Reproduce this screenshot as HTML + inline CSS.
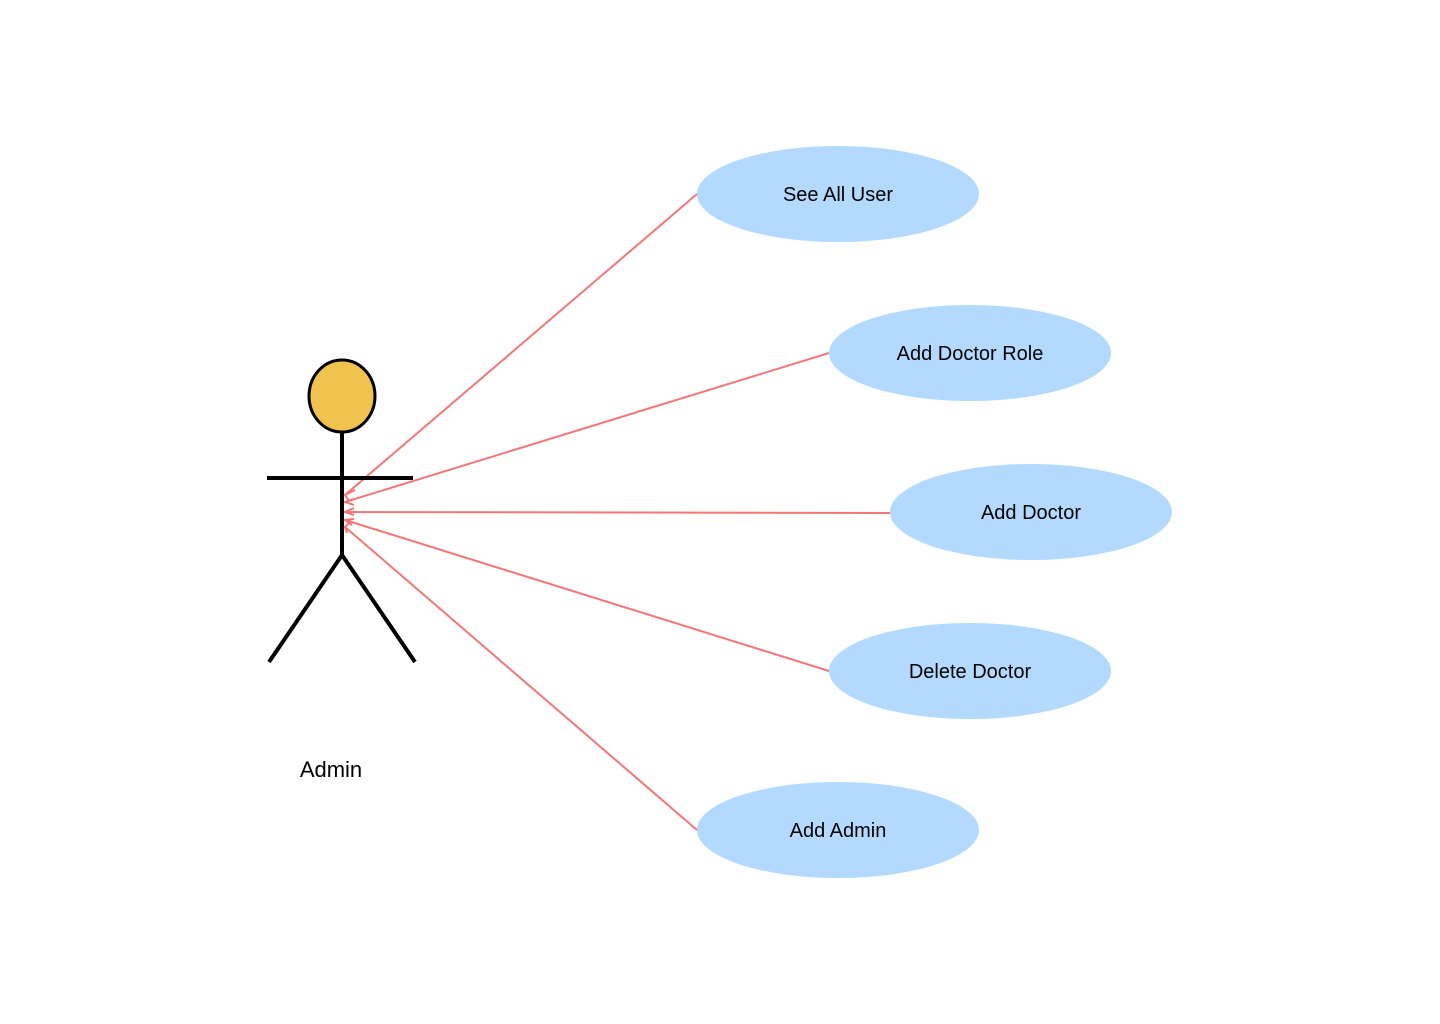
<!DOCTYPE html>
<html><head><style>body{margin:0;background:#fff}svg{display:block}</style></head><body>
<svg width="1440" height="1024" viewBox="0 0 1440 1024" xmlns="http://www.w3.org/2000/svg">
<rect width="1440" height="1024" fill="#fff"/>
<g fill="#b3dafe">
<ellipse cx="838" cy="194" rx="141" ry="48"/>
<ellipse cx="970" cy="353" rx="141" ry="48"/>
<ellipse cx="1031" cy="512" rx="141" ry="48"/>
<ellipse cx="970" cy="671" rx="141" ry="48"/>
<ellipse cx="838" cy="830" rx="141" ry="48"/>
</g>
<g stroke="#f87575" stroke-width="2" fill="none">
<line x1="697" y1="194" x2="345" y2="495"/>
<line x1="829" y1="353" x2="345" y2="502"/>
<line x1="890" y1="513" x2="345" y2="512"/>
<line x1="829" y1="671" x2="345" y2="520"/>
<line x1="697" y1="830" x2="345" y2="527"/>
<path d="M355 490 L345 495 L349 501 M354 499 L345 502 L354 505 M354 508 L345 512 L354 515 M354 519 L345 520 L352 525 M350 522 L345 527 L347 533"/>
</g>
<g stroke="#000" stroke-width="4" fill="none">
<line x1="342" y1="432" x2="342" y2="556"/>
<line x1="267" y1="478" x2="413" y2="478"/>
<polyline points="269,662 342,555 415,662"/>
</g>
<ellipse cx="342" cy="396" rx="33" ry="36" fill="#f0c24e" stroke="#000" stroke-width="3"/>
<g font-family="Liberation Sans, sans-serif" font-size="20" text-anchor="middle" fill="#000">
<text x="838" y="201">See All User</text>
<text x="970" y="360">Add Doctor Role</text>
<text x="1031" y="519">Add Doctor</text>
<text x="970" y="678">Delete Doctor</text>
<text x="838" y="837">Add Admin</text>
<text x="331" y="777" font-size="22">Admin</text>
</g>
</svg>
</body></html>
